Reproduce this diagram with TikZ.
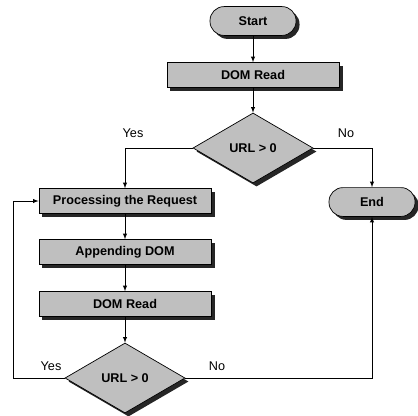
\documentclass[tikz,border=0pt]{standalone}
\usepackage{fontspec}
\setmainfont{Liberation Sans}
\usetikzlibrary{shapes.geometric,shadows}
\tikzset{>=latex}
\tikzset{
  shade/.style={fill=gray!50,draw=black,line width=0.5pt,
    drop shadow={shadow xshift=2.5pt,shadow yshift=-2.5pt,fill=black,opacity=0.85}},
  task/.style={shade,rectangle,minimum width=4.3cm,minimum height=0.62cm,
    inner sep=0pt,font=\bfseries\small},
  term/.style={shade,rectangle,rounded corners=0.35cm,minimum width=2.15cm,
    minimum height=0.72cm,inner sep=0pt,font=\bfseries\small},
  test/.style={shade,diamond,minimum width=3cm,minimum height=1.75cm,
    inner sep=0pt,font=\bfseries\small},
  lbl/.style={font=\small}
}

\begin{document}
\begin{tikzpicture}[x=0.025cm,y=-0.025cm]
  \useasboundingbox (0,0) rectangle (418,415);
  \node[term] (start) at (253,21)  {Start};
  \node[task] (read1) at (253,75)  {DOM Read};
  \node[test] (dec1)  at (253,148) {URL > 0};
  \node[task] (proc)  at (125,201) {Processing the Request};
  \node[term] (end)   at (372,202) {End};
  \node[task] (app)   at (125,252) {Appending DOM};
  \node[task] (read2) at (125,304) {DOM Read};
  \node[test] (dec2)  at (125,378) {URL > 0};
  \coordinate (back) at (13,378);
  \draw[->] (start) -- (read1);
  \draw[->] (read1) -- (dec1);
  \draw[->] (dec1.west) -| (proc.north);
  \draw[->] (dec1.east) -| (end.north);
  \node[lbl] (yes1) at (133,133) {Yes};
  \node[lbl] (no1)  at (346,133) {No};
  \draw[->] (proc) -- (app);
  \draw[->] (app) -- (read2);
  \draw[->] (read2) -- (dec2);
  \draw[->] (dec2.west) -- (back) |- (proc.west);
  \draw[->] (dec2.east) -| (end.south);
  \node[lbl] (yes2) at (51,366)  {Yes};
  \node[lbl] (no2)  at (217,366) {No};
\end{tikzpicture}
\end{document}
